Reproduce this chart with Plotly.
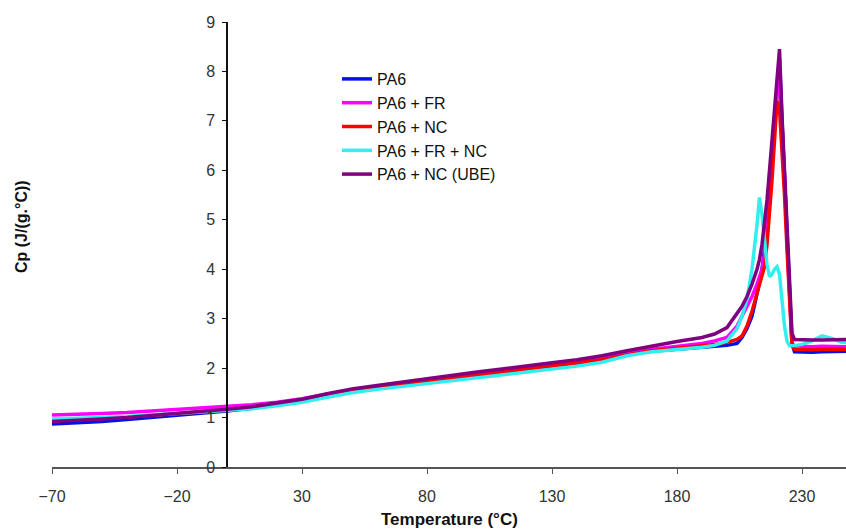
import plotly.graph_objects as go

temperature = [-70, -60, -50, -40, -30, -20, -10, 0, 10, 20, 30, 40, 50, 60, 70, 80, 90, 100,
               110, 120, 130, 140, 150, 160, 170, 180, 190, 195, 200,
               204, 206, 208, 210, 212, 213, 214, 215, 216, 217, 218, 219, 220, 221, 222,
               223, 224, 225, 226, 227,
               230, 234, 238, 242, 246, 248]

cp_pa6 = [0.87, 0.89, 0.92, 0.96, 1.00, 1.04, 1.08, 1.13, 1.19, 1.26, 1.34, 1.45, 1.56, 1.63, 1.68, 1.74, 1.80, 1.86,
          1.92, 1.98, 2.04, 2.10, 2.17, 2.28, 2.34, 2.38, 2.42, 2.44, 2.46,
          2.50, 2.62, 2.80, 3.05, 3.50, 3.75, 4.00, 4.40, 4.90, 5.50, 6.20, 6.90, 7.60, 8.25, 7.00,
          5.90, 4.70, 3.50, 2.50, 2.33,
          2.32, 2.32, 2.33, 2.33, 2.34, 2.34]

cp_pa6_fr = [1.05, 1.06, 1.08, 1.10, 1.13, 1.16, 1.19, 1.22, 1.26, 1.31, 1.38, 1.47, 1.56, 1.63, 1.69, 1.75, 1.81, 1.87,
             1.93, 1.99, 2.05, 2.12, 2.20, 2.30, 2.38, 2.44, 2.50, 2.55, 2.62,
             2.85, 3.05, 3.25, 3.45, 3.70, 3.85, 4.00, 4.30, 4.80, 5.40, 6.10, 6.80, 7.50, 7.95, 7.00,
             5.90, 4.60, 3.40, 2.50, 2.45,
             2.44, 2.43, 2.44, 2.44, 2.43, 2.43]

cp_pa6_nc = [0.95, 0.96, 0.98, 1.01, 1.04, 1.07, 1.11, 1.15, 1.20, 1.27, 1.35, 1.46, 1.56, 1.63, 1.69, 1.75, 1.81, 1.87,
             1.93, 1.98, 2.04, 2.10, 2.17, 2.27, 2.35, 2.40, 2.45, 2.48, 2.52,
             2.58, 2.65, 2.85, 3.15, 3.50, 3.68, 3.85, 4.05, 4.50, 5.10, 5.80, 6.60, 7.40, 7.25, 6.50,
             5.50, 4.40, 3.30, 2.45, 2.38,
             2.37, 2.37, 2.38, 2.38, 2.38, 2.38]

cp_pa6_fr_nc = [0.97, 0.98, 1.00, 1.02, 1.05, 1.08, 1.11, 1.14, 1.18, 1.24, 1.31, 1.41, 1.50, 1.57, 1.63, 1.69, 1.75, 1.80,
                1.86, 1.92, 1.98, 2.04, 2.12, 2.25, 2.33, 2.37, 2.42, 2.46, 2.55,
                2.80, 3.05, 3.40, 4.00, 4.90, 5.45, 5.10, 4.50, 4.10, 3.85, 3.90, 4.00, 4.05, 3.90, 3.40,
                2.85, 2.55, 2.45, 2.45, 2.46,
                2.48, 2.55, 2.65, 2.60, 2.52, 2.52]

cp_pa6_nc_ube = [0.92, 0.94, 0.97, 1.00, 1.04, 1.08, 1.12, 1.17, 1.22, 1.29, 1.37, 1.48, 1.58, 1.65, 1.72, 1.79, 1.85, 1.92,
                 1.98, 2.05, 2.11, 2.17, 2.25, 2.35, 2.45, 2.54, 2.62, 2.69, 2.82,
                 3.10, 3.25, 3.45, 3.70, 4.00, 4.20, 4.50, 4.90, 5.40, 6.00, 6.60, 7.30, 8.00, 8.45, 7.10,
                 6.00, 4.80, 3.60, 2.70, 2.58,
                 2.57, 2.57, 2.57, 2.58, 2.58, 2.58]

series_names = ["PA6", "PA6 + FR", "PA6 + NC", "PA6 + FR + NC", "PA6 + NC (UBE)"]
series_values = [cp_pa6, cp_pa6_fr, cp_pa6_nc, cp_pa6_fr_nc, cp_pa6_nc_ube]
series_colors = ["#0010E8", "#FF00FF", "#FF0000", "#33EEEE", "#800080"]

x_ticks = [-70, -20, 30, 80, 130, 180, 230]
y_ticks = [0, 1, 2, 3, 4, 5, 6, 7, 8, 9]

x_min, x_max = -70, 247.6

fig = go.Figure()
for i, (name, vals, col) in enumerate(zip(series_names, series_values, series_colors)):
    fig.add_trace(go.Scatter(
        x=temperature, y=vals, mode="lines", name=name,
        line=dict(color=col, width=3.5), legendgroup=f"g{i}",
    ))

font = "Liberation Sans, Arial, sans-serif"
fig.update_layout(
    width=846, height=531,
    margin=dict(l=52, r=0, t=22, b=64),
    plot_bgcolor="white", paper_bgcolor="white",
    font=dict(family=font, size=16, color="#333"),
    showlegend=True,
    legend=dict(x=(337 - 52) / 794, y=(467 - 62) / 445, xanchor="left", yanchor="top",
                bgcolor="rgba(0,0,0,0)", font=dict(size=16, color="#111"),
                tracegroupgap=0, itemwidth=30),
    xaxis=dict(range=[x_min, x_max], tickvals=x_ticks, ticks="outside", ticklen=5,
               tickcolor="#555", showline=True, linecolor="#555", linewidth=1.5,
               showgrid=False, zeroline=False, ticklabelstandoff=9,
               tickfont=dict(size=16, color="#333")),
    yaxis=dict(range=[0, 9], tickvals=y_ticks, ticks="outside", ticklen=4,
               tickcolor="#111", showline=True, linecolor="#111", linewidth=1.5,
               showgrid=False, zeroline=False, anchor="free",
               position=(0 - x_min) / (x_max - x_min), ticklabelstandoff=4,
               tickfont=dict(size=16, color="#333")),
    annotations=[
        dict(text="<b>Temperature (°C)</b>", x=0.5, y=(467 - 519) / 445, xref="paper", yref="paper",
             xanchor="center", yanchor="middle", showarrow=False, font=dict(size=17, color="#111")),
        dict(text="<b>Cp (J/(g.°C))</b>", x=(21 - 52) / 794, y=(467 - 227) / 445, xref="paper", yref="paper",
             xanchor="center", yanchor="middle", textangle=-90, showarrow=False,
             font=dict(size=16, color="#111")),
    ],
)

fig.write_html("out.html")
